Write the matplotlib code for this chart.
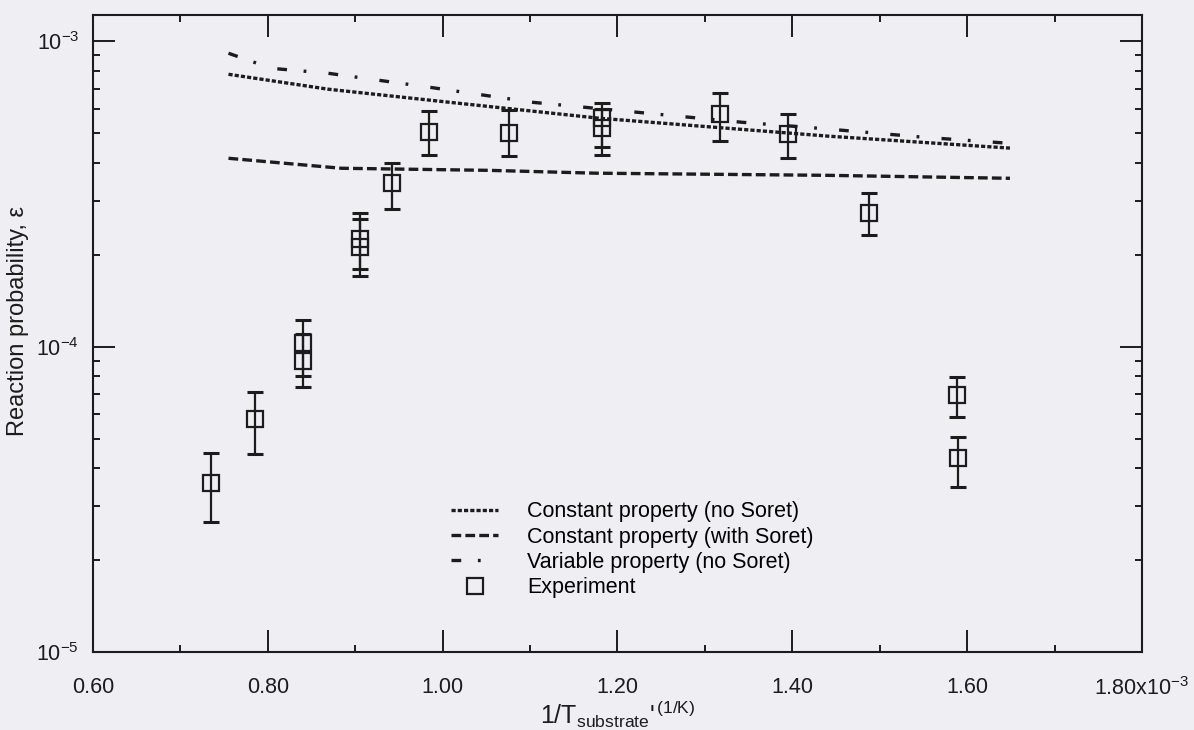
import matplotlib
matplotlib.use("Agg")
import matplotlib.pyplot as plt
import numpy as np

plt.rcParams['font.family'] = ['Liberation Sans', 'DejaVu Sans']
plt.rcParams['mathtext.fontset'] = 'custom'
plt.rcParams['mathtext.rm'] = 'Liberation Sans'
plt.rcParams['mathtext.it'] = 'Liberation Sans'
plt.rcParams['mathtext.sf'] = 'Liberation Sans'
plt.rcParams['lines.scale_dashes'] = False

# model curves (x in units of 1e-3 1/K)
const_x = [0.755, 0.869, 1.0, 1.179, 1.442, 1.649]
const_y = [7.8e-4, 6.97e-4, 6.35e-4, 5.6e-4, 4.89e-4, 4.47e-4]

soret_x = [0.755, 0.884, 1.053, 1.175, 1.442, 1.649]
soret_y = [4.14e-4, 3.84e-4, 3.78e-4, 3.70e-4, 3.64e-4, 3.56e-4]

var_x = [0.755, 0.804, 0.869, 0.987, 1.104, 1.222, 1.343, 1.431, 1.551, 1.646]
var_y = [9.14e-4, 8.16e-4, 7.86e-4, 7.06e-4, 6.31e-4, 5.86e-4, 5.43e-4, 5.19e-4, 4.85e-4, 4.64e-4]

# experiment with error bar bounds
exp_x = [0.735, 0.785, 0.84, 0.84, 0.906, 0.906, 0.942, 0.984, 1.076, 1.182, 1.182,
         1.317, 1.395, 1.488, 1.588, 1.590]
exp_y = [3.57e-5, 5.8e-5, 1.03e-4, 0.90e-4, 2.25e-4, 2.12e-4, 3.43e-4, 5.04e-4, 5.0e-4,
         5.6e-4, 5.2e-4, 5.8e-4, 4.97e-4, 2.74e-4, 6.94e-5, 4.31e-5]
exp_lo = [2.67e-5, 4.46e-5, 0.80e-4, 0.74e-4, 1.80e-4, 1.71e-4, 2.82e-4, 4.24e-4, 4.2e-4,
          4.5e-4, 4.25e-4, 4.7e-4, 4.14e-4, 2.32e-4, 5.88e-5, 3.47e-5]
exp_hi = [4.48e-5, 7.1e-5, 1.22e-4, 1.10e-4, 2.74e-4, 2.62e-4, 3.99e-4, 5.9e-4, 5.94e-4,
          6.3e-4, 6.0e-4, 6.76e-4, 5.8e-4, 3.18e-4, 7.94e-5, 5.06e-5]

xticks = [0.6, 0.8, 1.0, 1.2, 1.4, 1.6, 1.8]
xticklabels = ['0.60', '0.80', '1.00', '1.20', '1.40', '1.60', '1.80x10$^{-3}$']

bg = '#eeeef3'
ink = '#1c1c1c'

fig = plt.figure(figsize=(11.94, 7.30), dpi=100, facecolor=bg)
ax = fig.add_axes([0.0779, 0.1068, 0.8785, 0.8727])
ax.set_facecolor(bg)

ax.plot(const_x, const_y, color=ink, lw=2.4, linestyle=(0, (3, 1.5)),
        label='Constant property (no Soret)')
ax.plot(soret_x, soret_y, color=ink, lw=2.4, linestyle=(0, (7, 3)),
        label='Constant property (with Soret)')
ax.plot(var_x, var_y, color=ink, lw=2.4, linestyle=(0, (7, 12, 2, 16)),
        label='Variable property (no Soret)')

exp_x = np.array(exp_x)
exp_y = np.array(exp_y)
yerr = [exp_y - np.array(exp_lo), np.array(exp_hi) - exp_y]
ax.errorbar(exp_x, exp_y, yerr=yerr, fmt='none', ecolor=ink, elinewidth=1.6,
            capsize=6, capthick=2.2)
ax.plot(exp_x, exp_y, linestyle='none', marker='s', markersize=12,
        markerfacecolor='none', markeredgecolor=ink, markeredgewidth=1.6,
        label='Experiment')

ax.set_yscale('log')
ax.set_xlim(0.6, 1.8)
ax.set_ylim(1e-5, 1.22e-3)
ax.set_xticks(xticks)
ax.set_xticklabels(xticklabels)
ax.set_xticks(np.arange(0.7, 1.8, 0.2), minor=True)

for s in ax.spines.values():
    s.set_linewidth(1.5)
    s.set_color(ink)

ax.tick_params(which='both', direction='in', top=True, right=True, color=ink,
               labelsize=15.5, labelcolor=ink)
ax.tick_params(which='major', length=16, width=1.4)
ax.tick_params(which='minor', length=5, width=1.4)
ax.tick_params(axis='x', which='major', pad=18)
ax.tick_params(axis='y', which='major', pad=10)

ax.set_xlabel('1/T$_{\\mathrm{substrate}}$\'$^{\\,(1/K)}$', fontsize=18, color=ink)
ax.xaxis.set_label_coords(0.5, -0.073)
ax.set_ylabel('Reaction probability, ε', fontsize=17, color=ink)
ax.yaxis.set_label_coords(-0.061, 0.52)

ax.legend(loc='upper left', bbox_to_anchor=(0.333, 0.25), frameon=False,
          fontsize=15.5, handlelength=2.2, handletextpad=1.35, labelspacing=0.2,
          borderaxespad=0)

fig.savefig('out.png', dpi=100, facecolor=bg)
